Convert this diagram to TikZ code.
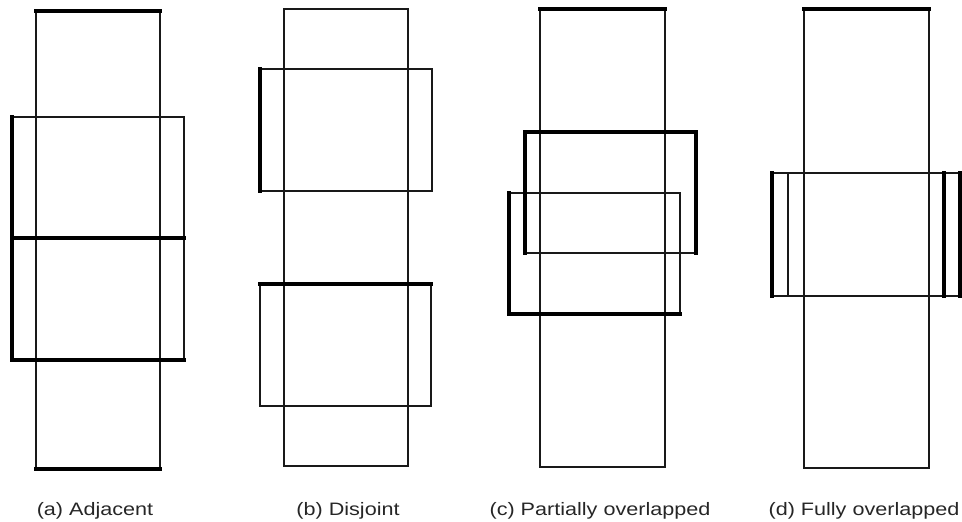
\documentclass[tikz,border=0pt]{standalone}
\usepackage{fontspec}
\setmainfont{Liberation Sans}
\begin{document}
\begin{tikzpicture}[x=1pt,y=-1pt,
  thinl/.style={draw=black!90,line width=1.4pt},
  thickl/.style={draw=black,line width=3.2pt,line cap=rect},
  lab/.style={anchor=base,inner sep=0pt,font=\fontsize{18}{20}\selectfont,text=black!85}]
\useasboundingbox (0,0) rectangle (962,522);
% (a) Adjacent
\draw[thinl] (36,11) rectangle (160,469);
\draw[thinl] (12,117) rectangle (184,238);
\draw[thinl] (12,238) rectangle (184,360);
\draw[thickl] (36,11) -- (160,11);
\draw[thickl] (36,469) -- (160,469);
\draw[thickl] (12,117) -- (12,360);
\draw[thickl] (12,238) -- (184,238);
\draw[thickl] (12,360) -- (184,360);
\node[lab] (la) at (95,515) {\scalebox{1.2}[1]{(a) Adjacent}};
% (b) Disjoint
\draw[thinl] (284,9) rectangle (408,466);
\draw[thinl] (260,69) rectangle (432,191);
\draw[thinl] (260,284) rectangle (431,406);
\draw[thickl] (260,69) -- (260,191);
\draw[thickl] (260,284) -- (431,284);
\node[lab] (lb) at (348,515) {\scalebox{1.2}[1]{(b) Disjoint}};
% (c) Partially overlapped
\draw[thinl] (540,9) rectangle (665,467);
\draw[thinl] (525,132) rectangle (696,253);
\draw[thinl] (509,193) rectangle (680,314);
\draw[thickl] (540,9) -- (665,9);
\draw[thickl] (525,253) -- (525,132) -- (696,132) -- (696,253);
\draw[thickl] (509,193) -- (509,314) -- (680,314);
\node[lab] (lc) at (600,515) {\scalebox{1.2}[1]{(c) Partially overlapped}};
% (d) Fully overlapped
\draw[thinl] (804,9) rectangle (929,468);
\draw[thinl] (772,173) rectangle (960,296);
\draw[thinl] (788,173) -- (788,296);
\draw[thickl] (804,9) -- (929,9);
\draw[thickl] (772,173) -- (772,296);
\draw[thickl] (960,173) -- (960,296);
\draw[thickl] (944,173) -- (944,296);
\node[lab] (ld) at (864,515) {\scalebox{1.2}[1]{(d) Fully overlapped}};
\end{tikzpicture}
\end{document}
